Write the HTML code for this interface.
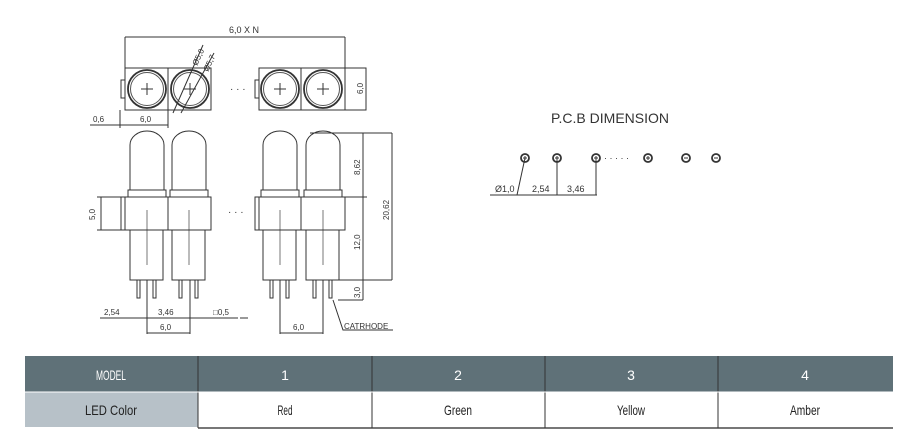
<!DOCTYPE html>
<html><head><meta charset="utf-8"><style>
html,body{margin:0;padding:0;background:#fff;width:910px;height:443px;overflow:hidden}
svg{position:absolute;left:0;top:0}
text{font-family:"Liberation Sans",sans-serif;fill:#333}
</style></head><body>
<svg width="910" height="443" viewBox="0 0 910 443" fill="none" stroke="#333" stroke-width="1">
<!-- top view -->
<text x="244" y="33" font-size="9" stroke="none" text-anchor="middle">6,0 X N</text>
<line x1="125" y1="37" x2="345" y2="37"/>
<line x1="125" y1="37" x2="125" y2="68"/><line x1="345" y1="37" x2="345" y2="68"/>
<rect x="125" y="68" width="86" height="42"/><line x1="168" y1="68" x2="168" y2="110"/>
<rect x="121" y="80" width="4" height="18"/>
<rect x="259" y="68" width="86" height="42"/><line x1="301" y1="68" x2="301" y2="110"/>
<rect x="255" y="80" width="4" height="18"/>
<g stroke-width="1.8">
<circle cx="147" cy="89" r="19"/><circle cx="190" cy="89" r="19"/>
<circle cx="280" cy="89" r="19"/><circle cx="323" cy="89" r="19"/></g>
<g stroke="#555"><circle cx="147" cy="89" r="16.5"/><circle cx="190" cy="89" r="16.5"/>
<circle cx="280" cy="89" r="16.5"/><circle cx="323" cy="89" r="16.5"/></g>
<path d="M141 89h12M147 83v12M184 89h12M190 83v12M274 89h12M280 83v12M317 89h12M323 83v12"/>
<path d="M173 113L203 45M181 113L214 53"/>
<text transform="translate(197,66) rotate(-65)" font-size="8" stroke="none">Ø5,0</text>
<text transform="translate(208,72) rotate(-65)" font-size="8" stroke="none">Ø5,7</text>
<text x="230" y="92" font-size="10" stroke="none">· · ·</text>
<path d="M345 68h21v42h-21M366 68v42"/>
<text transform="translate(363,94) rotate(-90)" font-size="8" stroke="none">6,0</text>
<path d="M90 125h78M120 110v18M168 110v18"/>
<text x="93" y="122" font-size="8" stroke="none">0,6</text>
<text x="140" y="122" font-size="8" stroke="none">6,0</text>
<!-- side view left -->
<g id="led">
<path d="M130 190V145a17 14 0 0 1 34 0V190"/>
<rect x="128" y="190" width="38" height="7"/>
<path d="M130 230v50h33v-50"/>
<line x1="147" y1="210" x2="147" y2="265" stroke="#777"/>
<rect x="137" y="280" width="3" height="18"/><rect x="153" y="280" width="3" height="18"/>
</g>
<use href="#led" x="42"/>
<rect x="125" y="197" width="86" height="33"/><line x1="168" y1="197" x2="168" y2="230"/>
<rect x="121" y="197" width="4" height="33"/>
<path d="M97 197h28M97 230h28M101 197v33"/>
<text transform="translate(95,220) rotate(-90)" font-size="8" stroke="none">5,0</text>
<path d="M100 318h138M147 280v54M190 280v54M147 333h43M240 318h8"/>
<text x="104" y="315" font-size="8" stroke="none">2,54</text>
<text x="158" y="315" font-size="8" stroke="none">3,46</text>
<text x="213" y="315" font-size="8" stroke="none">□0,5</text>
<text x="160" y="330" font-size="8" stroke="none">6,0</text>
<text x="228" y="215" font-size="10" stroke="none">· · ·</text>
<!-- side view right -->
<use href="#led" x="133"/><use href="#led" x="176"/>
<rect x="259" y="197" width="86" height="33"/><line x1="301" y1="197" x2="301" y2="230"/>
<rect x="255" y="197" width="4" height="33"/>
<path d="M310 133h82M345 197h22M338 280h25M338 300h25M363 133v167M392 133v147M363 280h29"/>
<text transform="translate(360,175) rotate(-90)" font-size="8" stroke="none">8,62</text>
<text transform="translate(360,250) rotate(-90)" font-size="8" stroke="none">12,0</text>
<text transform="translate(360,298) rotate(-90)" font-size="8" stroke="none">3,0</text>
<text transform="translate(389,220) rotate(-90)" font-size="8" stroke="none">20,62</text>
<path d="M280 280v54M323 280v54M280 333h43M333 300l10 30h50"/>
<text x="293" y="330" font-size="8" stroke="none">6,0</text>
<text x="344" y="329" font-size="8" stroke="none">CATRHODE</text>
<!-- PCB -->
<text x="610" y="123" font-size="14" stroke="none" text-anchor="middle" fill="#444">P.C.B DIMENSION</text>
<g stroke-width="1.8"><circle cx="525" cy="158" r="4"/><circle cx="557" cy="158" r="4"/><circle cx="596" cy="158" r="4"/><circle cx="648" cy="158" r="4"/><circle cx="686" cy="158" r="4"/><circle cx="716" cy="158" r="4"/></g>
<path d="M523 158h4M525 156v4M555 158h4M557 156v4M594 158h4M596 156v4M646 158h4M648 156v4M684 158h4M714 158h4" />
<text x="604" y="161" font-size="9" stroke="none">· · · · ·</text>
<path d="M490 195h107M517 195l8-37M557 158v37M596 158v37"/>
<text x="495" y="192" font-size="9" stroke="none">Ø1,0</text>
<text x="532" y="192" font-size="9" stroke="none">2,54</text>
<text x="567" y="192" font-size="9" stroke="none">3,46</text>
</svg>
<div style="position:absolute;left:25px;top:356px;width:868px;height:36px;background:#5f7178"></div>
<div style="position:absolute;left:25px;top:392px;width:173px;height:35px;background:#b7c1c8"></div>
<div style="position:absolute;left:198px;top:392px;width:695px;height:35px;background:#fff;border-bottom:2px solid #777"></div>
<svg width="910" height="443">
<g stroke="#333" stroke-width="1"><path d="M198 356v72M372 356v72M545 356v72M718 356v72"/><line x1="25" y1="392" x2="893" y2="392" stroke="#fff" stroke-width="1"/></g>
<g font-size="14" text-anchor="middle" lengthAdjust="spacingAndGlyphs">
<text x="111" y="380" style="fill:#fff" textLength="30" lengthAdjust="spacingAndGlyphs">MODEL</text>
<text x="285" y="380" style="fill:#fff">1</text><text x="458" y="380" style="fill:#fff">2</text>
<text x="631" y="380" style="fill:#fff">3</text><text x="805" y="380" style="fill:#fff">4</text>
<text x="111" y="415" style="fill:#222" textLength="52" lengthAdjust="spacingAndGlyphs">LED Color</text>
<text x="285" y="415" style="fill:#222" textLength="15" lengthAdjust="spacingAndGlyphs">Red</text>
<text x="458" y="415" style="fill:#222" textLength="28" lengthAdjust="spacingAndGlyphs">Green</text>
<text x="631" y="415" style="fill:#222" textLength="28" lengthAdjust="spacingAndGlyphs">Yellow</text>
<text x="805" y="415" style="fill:#222" textLength="30" lengthAdjust="spacingAndGlyphs">Amber</text>
</g></svg>
</body></html>
